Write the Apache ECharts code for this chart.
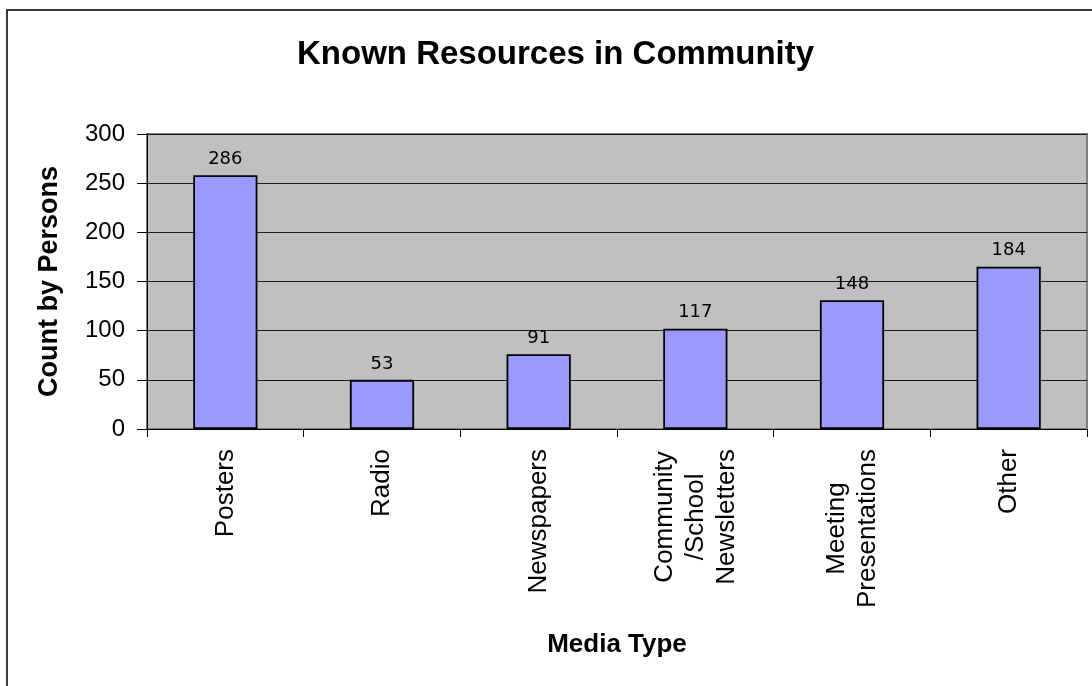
<!DOCTYPE html>
<html>
<head>
<meta charset="utf-8">
<script src="https://cdn.jsdelivr.net/npm/echarts@6/dist/echarts.min.js"></script>
<style>
html,body{margin:0;padding:0;width:1092px;height:686px;overflow:hidden;background:#fff;}
#frame{position:absolute;left:6px;top:9px;width:1100px;height:700px;border:2px solid #3a3a3a;box-sizing:border-box;}
#chart{position:absolute;left:0;top:0;width:1092px;height:686px;}
</style>
</head>
<body>
<div id="frame"></div>
<div id="chart"></div>
<script>
const categories = ['Posters', 'Radio', 'Newspapers', 'Community\n/School\nNewsletters', 'Meeting\nPresentations', 'Other'];
const barValues = [258, 50, 76, 102, 131, 165];
const labelTexts = ['286', '53', '91', '117', '148', '184'];
const yTicks = [0, 50, 100, 150, 200, 250, 300];

const chart = echarts.init(document.getElementById('chart'), null, {renderer: 'canvas'});
chart.setOption({
  backgroundColor: 'transparent',
  animation: false,
  title: {
    text: 'Known Resources in Community',
    left: 297,
    top: 38,
    padding: 0,
    textStyle: {fontFamily: 'Liberation Sans', fontWeight: 'bold', fontSize: 33, color: '#000'}
  },
  grid: {
    left: 147, right: 5, top: 134, bottom: 257,
    show: true, backgroundColor: '#c0c0c0', borderColor: '#808080', borderWidth: 2
  },
  xAxis: {
    type: 'category',
    data: categories,
    boundaryGap: true,
    name: 'Media Type',
    nameLocation: 'middle',
    nameGap: 203,
    nameTextStyle: {fontFamily: 'Liberation Sans', fontWeight: 'bold', fontSize: 26, color: '#000'},
    axisLine: {show: true, lineStyle: {color: '#000', width: 1}},
    axisTick: {show: true, length: 8, alignWithLabel: false, lineStyle: {color: '#000'}},
    axisLabel: {
      interval: 0,
      rotate: 90,
      margin: 20,
      fontFamily: 'Liberation Sans',
      fontSize: 26,
      color: '#000',
      lineHeight: 31,
      formatter: function (v) {
        return v.split('\n').map(function (s) { return '{c|' + s + '}'; }).join('\n');
      },
      rich: {c: {align: 'center', fontFamily: 'Liberation Sans', fontSize: 26, color: '#000', lineHeight: 31}}
    },
    splitLine: {show: false}
  },
  yAxis: {
    type: 'value',
    min: yTicks[0],
    max: yTicks[yTicks.length - 1],
    interval: 50,
    name: 'Count by Persons',
    nameLocation: 'middle',
    nameGap: 84,
    nameTextStyle: {fontFamily: 'Liberation Sans', fontWeight: 'bold', fontSize: 27, color: '#000'},
    axisLine: {show: true, lineStyle: {color: '#000', width: 1}},
    axisTick: {show: true, inside: false, length: 10, lineStyle: {color: '#000'}},
    axisLabel: {margin: 22, fontFamily: 'Liberation Sans', fontSize: 24, color: '#000'},
    splitLine: {show: true, lineStyle: {color: '#1a1a1a', width: 1}}
  },
  series: [{
    type: 'bar',
    data: barValues,
    barWidth: '41%',
    itemStyle: {color: '#9999ff', borderColor: '#000', borderWidth: 1.8},
    label: {
      show: true,
      position: 'top',
      distance: 7,
      fontFamily: 'DejaVu Sans',
      fontSize: 18,
      color: '#000',
      formatter: function (p) { return labelTexts[p.dataIndex]; }
    }
  }]
});
</script>
</body>
</html>
